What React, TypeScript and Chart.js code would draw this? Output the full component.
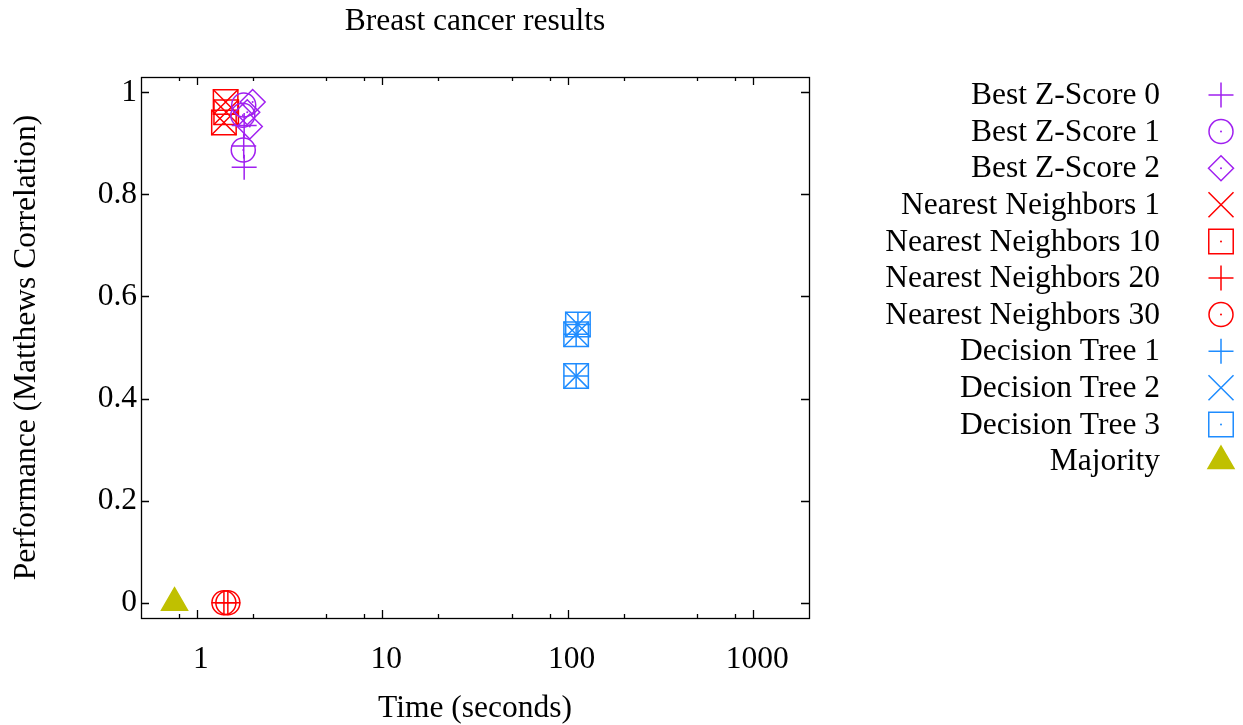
import React, { useEffect, useRef } from "react";
import { Chart, registerables } from "chart.js";
import { drawPoint } from "chart.js/helpers";

Chart.register(...registerables);

// ---------------- data ----------------
const chartTitle = "Breast cancer results";
const xAxisTitle = "Time (seconds)";
const yAxisTitle = "Performance (Matthews Correlation)";

const xTickValues = [1, 10, 100, 1000];
const xTickLabels = ["1", "10", "100", "1000"];
const xMinorTickValues = [0.8, 2, 5, 8, 20, 50, 80, 200, 500, 800];
const yTickValues = [0, 0.2, 0.4, 0.6, 0.8, 1];
const yTickLabels = ["0", "0.2", "0.4", "0.6", "0.8", "1"];

const seriesNames = [
  "Best Z-Score 0",
  "Best Z-Score 1",
  "Best Z-Score 2",
  "Nearest Neighbors 1",
  "Nearest Neighbors 10",
  "Nearest Neighbors 20",
  "Nearest Neighbors 30",
  "Decision Tree 1",
  "Decision Tree 2",
  "Decision Tree 3",
  "Majority",
];

const bestZ0Time = [1.8, 1.79, 1.8];
const bestZ0Perf = [0.853, 0.895, 0.935];
const bestZ1Time = [1.78, 1.77, 1.79];
const bestZ1Perf = [0.887, 0.955, 0.975];
const bestZ2Time = [2.0, 1.87, 1.93];
const bestZ2Perf = [0.981, 0.961, 0.933];
const nn1Time = [1.43, 1.44, 1.4];
const nn1Perf = [0.981, 0.961, 0.941];
const nn10Time = [1.43, 1.44, 1.4];
const nn10Perf = [0.981, 0.961, 0.941];
const nn20Time = [1.4, 1.47];
const nn20Perf = [0, 0];
const nn30Time = [1.4, 1.47];
const nn30Perf = [0, 0];
const dt1Time = [111, 111, 113.5];
const dt1Perf = [0.444, 0.526, 0.545];
const dt2Time = [111, 111, 113.5];
const dt2Perf = [0.444, 0.526, 0.545];
const dt3Time = [111, 111, 113.5];
const dt3Perf = [0.444, 0.526, 0.545];
const majorityTime = [0.758];
const majorityPerf = [0];

const seriesTimes = [bestZ0Time, bestZ1Time, bestZ2Time, nn1Time, nn10Time, nn20Time, nn30Time, dt1Time, dt2Time, dt3Time, majorityTime];
const seriesPerfs = [bestZ0Perf, bestZ1Perf, bestZ2Perf, nn1Perf, nn10Perf, nn20Perf, nn30Perf, dt1Perf, dt2Perf, dt3Perf, majorityPerf];

// ---------------- styles ----------------
const PURPLE = "#a020f0";
const RED = "#ff0000";
const BLUE = "#1e8cff";
const OLIVE = "#c0c000";
const NONE = "rgba(0,0,0,0)";

const seriesStyles = [
  { color: PURPLE, fill: NONE, shape: "cross", radius: 12.5, dot: false },
  { color: PURPLE, fill: NONE, shape: "circle", radius: 12, dot: true },
  { color: PURPLE, fill: NONE, shape: "rectRot", radius: 12.5, dot: true },
  { color: RED, fill: NONE, shape: "crossRot", radius: 17.7, dot: false },
  { color: RED, fill: NONE, shape: "rect", radius: 17.3, dot: true },
  { color: RED, fill: NONE, shape: "cross", radius: 12.5, dot: false },
  { color: RED, fill: NONE, shape: "circle", radius: 12, dot: true },
  { color: BLUE, fill: NONE, shape: "cross", radius: 12.5, dot: false },
  { color: BLUE, fill: NONE, shape: "crossRot", radius: 17.7, dot: false },
  { color: BLUE, fill: NONE, shape: "rect", radius: 17.3, dot: true },
  { color: OLIVE, fill: OLIVE, shape: "triangle", radius: 15, dot: false },
];

const W = 1243;
const H = 725;
const FONT_FAMILY = "'Liberation Serif', 'Times New Roman', serif";
const FONT_SIZE = 31.5;
const PLOT_LEFT = 141;
const PLOT_RIGHT = 809;
const PLOT_TOP = 77;
const PLOT_BOTTOM = 618;
const LEGEND_TEXT_RIGHT = 1160;
const LEGEND_MARK_X = 1221;
const LEGEND_TOP = 95;
const LEGEND_ROW = 36.6;
const MAJOR_TICK = 8;
const MINOR_TICK = 4;
const MARK_WIDTH = 1.5;

const gnuplotPlugin = {
  id: "gnuplotDecor",
  afterDatasetsDraw(chart: any) {
    const ctx = chart.ctx;
    chart.data.datasets.forEach((ds: any, i: number) => {
      if (!ds.centerDot) return;
      const meta = chart.getDatasetMeta(i);
      ctx.save();
      ctx.fillStyle = ds.pointBorderColor;
      meta.data.forEach((el: any) => {
        ctx.beginPath();
        ctx.arc(el.x, el.y, 1, 0, Math.PI * 2);
        ctx.fill();
      });
      ctx.restore();
    });
  },
  afterDraw(chart: any) {
    const ctx = chart.ctx;
    const a = chart.chartArea;
    const xs = chart.scales.x;
    const ys = chart.scales.y;
    ctx.save();
    ctx.strokeStyle = "#000";
    ctx.lineWidth = 1.3;
    ctx.strokeRect(a.left + 0.5, a.top + 0.5, a.right - a.left, a.bottom - a.top);
    ctx.beginPath();
    yTickValues.forEach((v) => {
      const py = Math.round(ys.getPixelForValue(v)) + 0.5;
      ctx.moveTo(a.left, py);
      ctx.lineTo(a.left + MAJOR_TICK, py);
      ctx.moveTo(a.right, py);
      ctx.lineTo(a.right - MAJOR_TICK, py);
    });
    xTickValues.forEach((v) => {
      const px = Math.round(xs.getPixelForValue(v)) + 0.5;
      ctx.moveTo(px, a.bottom);
      ctx.lineTo(px, a.bottom - MAJOR_TICK);
      ctx.moveTo(px, a.top);
      ctx.lineTo(px, a.top + MAJOR_TICK);
    });
    xMinorTickValues.forEach((v) => {
      const px = Math.round(xs.getPixelForValue(v)) + 0.5;
      ctx.moveTo(px, a.bottom);
      ctx.lineTo(px, a.bottom - MINOR_TICK);
      ctx.moveTo(px, a.top);
      ctx.lineTo(px, a.top + MINOR_TICK);
    });
    ctx.stroke();

    // legend
    ctx.font = `${FONT_SIZE}px ${FONT_FAMILY}`;
    ctx.textAlign = "right";
    ctx.textBaseline = "middle";
    chart.data.datasets.forEach((ds: any, i: number) => {
      const y = LEGEND_TOP + i * LEGEND_ROW;
      ctx.fillStyle = "#000";
      ctx.fillText(ds.label, LEGEND_TEXT_RIGHT, y + 1);
      ctx.strokeStyle = ds.pointBorderColor;
      ctx.fillStyle = ds.pointBackgroundColor;
      ctx.lineWidth = MARK_WIDTH;
      drawPoint(ctx, { pointStyle: ds.pointStyle, radius: ds.pointRadius, borderWidth: MARK_WIDTH, rotation: 0 } as any, LEGEND_MARK_X, y);
      if (ds.centerDot) {
        ctx.fillStyle = ds.pointBorderColor;
        ctx.beginPath();
        ctx.arc(LEGEND_MARK_X, y, 1, 0, Math.PI * 2);
        ctx.fill();
      }
    });
    ctx.restore();
  },
};

export default function App() {
  const canvasRef = useRef<HTMLCanvasElement | null>(null);

  useEffect(() => {
    const canvas = canvasRef.current;
    if (!canvas) return;
    const font = { family: FONT_FAMILY, size: FONT_SIZE, lineHeight: 1.2, weight: "normal" as const };
    const datasets = seriesNames.map((name, i) => {
      const st = seriesStyles[i];
      return {
        type: "scatter",
        label: name,
        data: seriesTimes[i].map((t, j) => ({ x: t, y: seriesPerfs[i][j] })),
        pointStyle: st.shape,
        pointRadius: st.radius,
        pointHoverRadius: st.radius,
        pointBorderWidth: MARK_WIDTH,
        pointBorderColor: st.color,
        pointBackgroundColor: st.fill,
        borderColor: st.color,
        backgroundColor: st.fill,
        showLine: false,
        centerDot: st.dot,
      };
    });
    const titleLine = FONT_SIZE * 1.2;
    const titleTopPad = 22 - titleLine / 2;
    const chart = new Chart(canvas, {
      type: "scatter",
      data: { datasets } as any,
      options: {
        animation: false,
        responsive: false,
        devicePixelRatio: 1,
        layout: { padding: { left: 0, top: 0, right: W - PLOT_RIGHT, bottom: 0 } },
        plugins: {
          legend: { display: false },
          tooltip: { enabled: false },
          title: {
            display: true,
            text: chartTitle,
            color: "#000",
            font,
            fullSize: false,
            padding: { top: titleTopPad, bottom: PLOT_TOP - titleTopPad - titleLine },
          },
        },
        scales: {
          x: {
            type: "logarithmic",
            min: 0.5,
            max: 2000,
            afterBuildTicks: (s: any) => {
              s.ticks = xTickValues.map((v) => ({ value: v }));
            },
            afterFit: (s: any) => {
              s.height = H - PLOT_BOTTOM;
            },
            ticks: {
              autoSkip: false,
              maxRotation: 0,
              color: "#000",
              font,
              padding: 23,
              labelOffset: 4,
              callback: (_v: any, i: number) => xTickLabels[i],
            },
            grid: { display: false, drawTicks: false },
            border: { display: false },
            title: { display: true, text: xAxisTitle, color: "#000", font, padding: { top: 0, bottom: -3 } },
          },
          y: {
            type: "linear",
            min: -0.03,
            max: 1.03,
            afterBuildTicks: (s: any) => {
              s.ticks = yTickValues.map((v) => ({ value: v }));
            },
            afterFit: (s: any) => {
              s.width = PLOT_LEFT;
            },
            ticks: {
              color: "#000",
              font,
              padding: 4,
              callback: (_v: any, i: number) => yTickLabels[i],
            },
            grid: { display: false, drawTicks: false },
            border: { display: false },
            title: { display: true, text: yAxisTitle, color: "#000", font, padding: { top: 8, bottom: 0 } },
          },
        },
      } as any,
      plugins: [gnuplotPlugin as any],
    });
    return () => chart.destroy();
  }, []);

  return (
    <div style={{ position: "absolute", left: 0, top: 0, width: W, height: H, background: "#fff" }}>
      <canvas ref={canvasRef} width={W} height={H} style={{ width: W, height: H, display: "block" }} />
    </div>
  );
}
